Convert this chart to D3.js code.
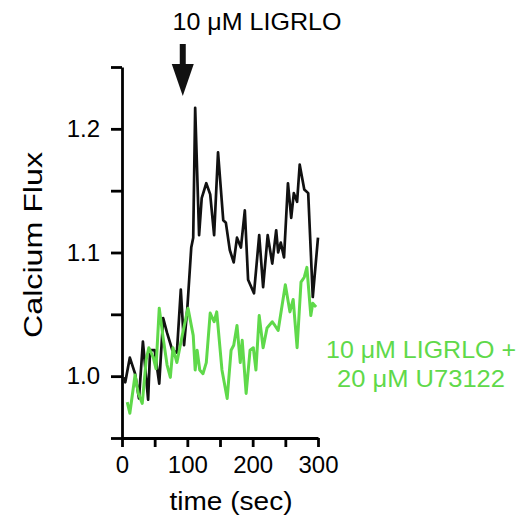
<!DOCTYPE html>
<html><head><meta charset="utf-8">
<script src="https://cdn.jsdelivr.net/npm/d3@7"></script>
<style>body{margin:0;background:#fff}</style>
</head><body>
<script>
// Data (time in sec, calcium flux ratio)
const blackTime = [2,5,12,20,26,32,40,43,50,57,63,69,77,84,90,95,100,106,109,112,118,122,129,135,141,147,155,159,165,171,176,182,188,193,202,210,216,223,230,236,239,243,248,254,259,263,268,272,279,285,292,300];
const blackFlux = [0.999,0.995,1.015,1.002,0.982,1.028,0.981,1.021,1.021,0.994,1.047,1.035,1.021,1.019,1.070,1.025,1.055,1.104,1.112,1.217,1.114,1.144,1.156,1.147,1.114,1.181,1.126,1.124,1.102,1.092,1.112,1.104,1.134,1.078,1.067,1.114,1.072,1.114,1.091,1.118,1.100,1.108,1.096,1.156,1.128,1.148,1.141,1.171,1.151,1.148,1.064,1.112];
const greenTime = [8,12,20,25,31,37,41,48,52,57,63,69,74,78,84,90,93,101,109,112,115,119,124,129,135,141,145,153,161,167,171,176,181,184,190,196,201,205,210,216,222,230,234,239,250,257,262,268,274,279,283,289,292,297];
const greenFlux = [0.979,0.970,1.001,0.986,0.978,1.013,1.023,1.015,1.006,1.055,1.031,1.009,0.999,1.023,1.011,1.027,1.035,1.055,1.033,1.005,1.021,1.005,1.002,1.011,1.051,1.044,1.052,1.005,0.982,1.021,1.025,1.041,1.011,1.029,0.986,1.021,1.023,1.005,1.049,1.023,1.039,1.044,1.041,1.037,1.074,1.052,1.062,1.023,1.076,1.080,1.088,1.049,1.059,1.056];
const xTicks = [0,50,100,150,200,250,300];
const xTickLabels = ["0","","100","","200","","300"];
const yTicks = [0.95,1.0,1.05,1.1,1.15,1.2,1.25];
const yTickLabels = ["","1.0","","1.1","","1.2",""];
const titleText = "10 \u03BCM LIGRLO";
const greenLabel = ["10 \u03BCM LIGRLO +", "20 \u03BCM U73122"];
const xTitle = "time (sec)";
const yTitle = "Calcium Flux";

const W = 527, H = 522;
const GREEN = "#5fd94a";
const svg = d3.select("body").append("svg")
  .attr("width", W).attr("height", H)
  .style("font-family", "'Liberation Sans', Arial, Helvetica, sans-serif");

const x = d3.scaleLinear().domain([0, 300]).range([122, 318]);
const y = d3.scaleLinear().domain([0.95, 1.25]).range([438, 67]);

// Y axis
const yAxis = d3.axisLeft(y).tickValues(yTicks).tickSize(11).tickSizeOuter(0).tickPadding(11)
  .tickFormat((d, i) => yTickLabels[i]);
const gy = svg.append("g").attr("transform", "translate(122,0)").call(yAxis);
gy.selectAll("path, line").attr("stroke", "#000").attr("stroke-width", 2.8);
gy.selectAll("text").attr("font-size", 24).attr("fill", "#000").style("font-family", "inherit");

// X axis
const xAxis = d3.axisBottom(x).tickValues(xTicks).tickSize(9).tickSizeOuter(0).tickPadding(9)
  .tickFormat((d, i) => xTickLabels[i]);
const gx = svg.append("g").attr("transform", "translate(0,438)").call(xAxis);
gx.selectAll("path, line").attr("stroke", "#000").attr("stroke-width", 2.8);
gx.selectAll("text").attr("font-size", 24).attr("fill", "#000").style("font-family", "inherit");

// Lines
const line = d3.line().x(d => x(d[0])).y(d => y(d[1]));
svg.append("path").datum(blackTime.map((t, i) => [t, blackFlux[i]]))
  .attr("d", line).attr("fill", "none").attr("stroke", "#111").attr("stroke-width", 2.7)
  .attr("stroke-linejoin", "round");
svg.append("path").datum(greenTime.map((t, i) => [t, greenFlux[i]]))
  .attr("d", line).attr("fill", "none").attr("stroke", GREEN).attr("stroke-width", 3)
  .attr("stroke-linejoin", "round");

// Title and arrow
svg.append("text").attr("x", 257).attr("y", 30).attr("text-anchor", "middle")
  .attr("font-size", 24).attr("textLength", 169).attr("lengthAdjust", "spacingAndGlyphs")
  .text(titleText);
const ax = x(93);
svg.append("rect").attr("x", ax - 3).attr("y", 44).attr("width", 6).attr("height", 22).attr("fill", "#111");
svg.append("path").attr("d", `M${ax - 11},64 L${ax + 11},64 L${ax},96 Z`).attr("fill", "#111");

// Axis titles
svg.append("text").attr("x", 231).attr("y", 510).attr("text-anchor", "middle")
  .attr("font-size", 25).attr("textLength", 123).attr("lengthAdjust", "spacingAndGlyphs")
  .text(xTitle);
svg.append("text").attr("transform", "translate(42,245) rotate(-90)").attr("text-anchor", "middle")
  .attr("font-size", 25).attr("textLength", 186).attr("lengthAdjust", "spacingAndGlyphs")
  .text(yTitle);

// Green label
const gl = svg.append("g").attr("fill", GREEN).attr("font-size", 24);
gl.append("text").attr("x", 421).attr("y", 358).attr("text-anchor", "middle")
  .attr("textLength", 190).attr("lengthAdjust", "spacingAndGlyphs").text(greenLabel[0]);
gl.append("text").attr("x", 421).attr("y", 387).attr("text-anchor", "middle")
  .attr("textLength", 168).attr("lengthAdjust", "spacingAndGlyphs").text(greenLabel[1]);
</script>
</body></html>
